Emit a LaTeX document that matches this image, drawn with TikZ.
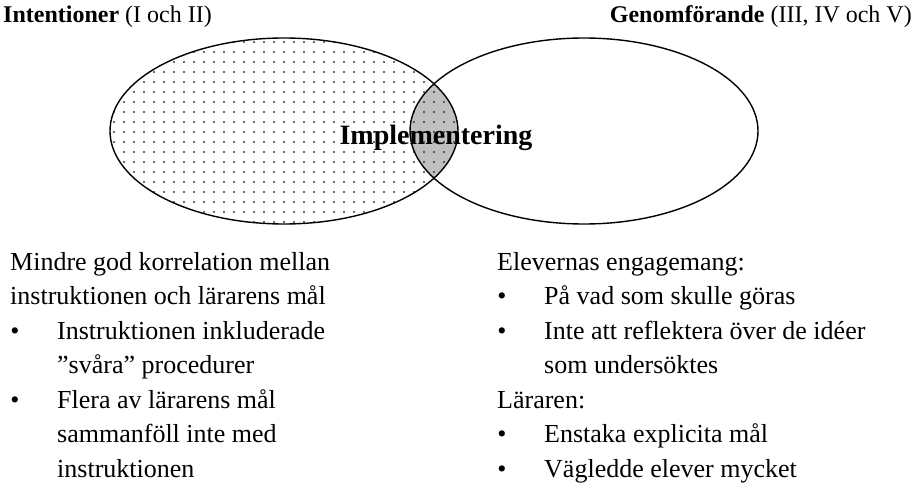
\documentclass[tikz,border=0pt]{standalone}
\usepackage{fontspec}
\setmainfont{Liberation Serif}
\definecolor{lensgray}{HTML}{C0C0C0}
\definecolor{dotc}{HTML}{3A3A3A}
\begin{document}
\begin{tikzpicture}[x=1pt,y=-1pt,
  body/.style={anchor=base west, inner sep=0pt, font=\fontsize{26}{30}\selectfont},
  bul/.style={anchor=base, inner sep=0pt, font=\fontsize{26}{30}\selectfont},
  ttl/.style={anchor=base west, inner sep=0pt, font=\fontsize{24}{28}\selectfont},
  outline/.style={draw=black, line width=1.4pt}]
\useasboundingbox (0,0) rectangle (917,484);
% shading of the left set and the overlap
\begin{scope}
  \clip (284,131) ellipse [x radius=174, y radius=93];
  \fill[lensgray] (584,131) ellipse [x radius=174, y radius=93];
  \foreach \x in {114,124,...,454}
    \foreach \y in {42,52,...,222}
      \fill[dotc] (\x,\y) circle[radius=1.1];
\end{scope}
\draw[outline] (284,131) ellipse [x radius=174, y radius=93];
\draw[outline] (584,131) ellipse [x radius=174, y radius=93];
\node[inner sep=0pt, font=\bfseries\fontsize{28}{32}\selectfont] (impl) at (436,138) {Implementering};
% titles
\node[ttl] (t1) at (3,23) {\textbf{Intentioner} (I och II)};
\node[ttl, anchor=base east] (t2) at (912,23) {\textbf{Genomförande} (III, IV och V)};
% left column
\node[body] (l1) at (10,270) {Mindre god korrelation mellan};
\node[body] (l2) at (10,304.5) {instruktionen och lärarens mål};
\node[bul] (lb1) at (15,339) {•};
\node[body] (l3) at (57,339) {Instruktionen inkluderade};
\node[body] (l4) at (57,373.5) {”svåra” procedurer};
\node[bul] (lb2) at (15,408) {•};
\node[body] (l5) at (57,408) {Flera av lärarens mål};
\node[body] (l6) at (57,442.5) {sammanföll inte med};
\node[body] (l7) at (57,477) {instruktionen};
% right column
\node[body] (r1) at (497,270) {Elevernas engagemang:};
\node[bul] (rb1) at (502,304.5) {•};
\node[body] (r2) at (544,304.5) {På vad som skulle göras};
\node[bul] (rb2) at (502,339) {•};
\node[body] (r3) at (544,339) {Inte att reflektera över de idéer};
\node[body] (r4) at (544,373.5) {som undersöktes};
\node[body] (r5) at (497,408) {Läraren:};
\node[bul] (rb3) at (502,442.5) {•};
\node[body] (r6) at (544,442.5) {Enstaka explicita mål};
\node[bul] (rb4) at (502,477) {•};
\node[body] (r7) at (544,477) {Vägledde elever mycket};
\end{tikzpicture}
\end{document}
